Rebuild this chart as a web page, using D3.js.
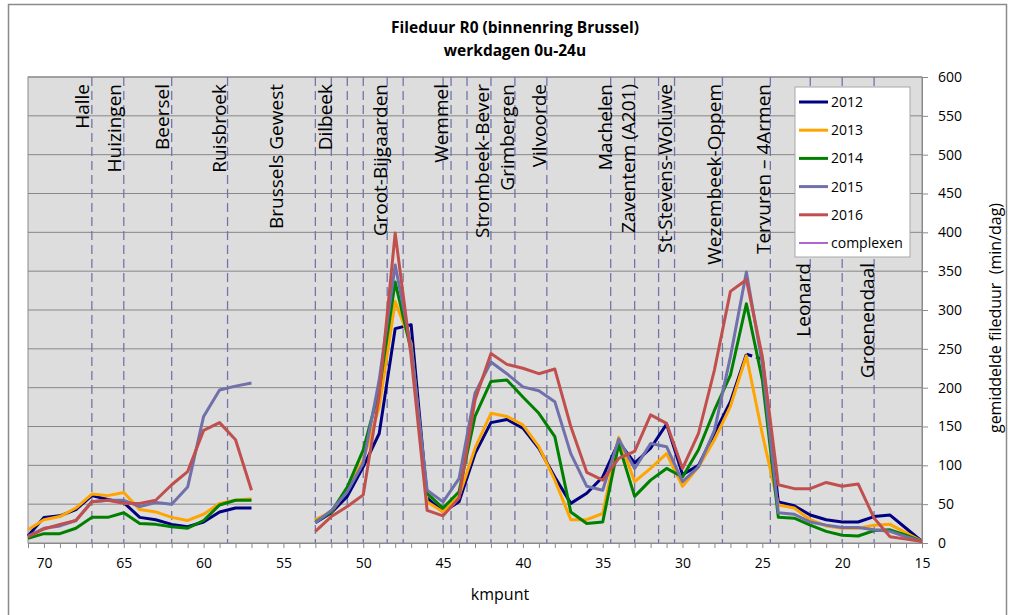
<!DOCTYPE html>
<html>
<head>
<meta charset="utf-8">
<script src="https://cdn.jsdelivr.net/npm/d3@7"></script>
<style>
  body { margin: 0; background: #fff; }
  text { font-family: "Open Sans", sans-serif; fill: #000; }
</style>
</head>
<body>
<div id="chart"></div>
<script>
let w = 1011;
let h = 615;

// kmpunt, from 71 down to 15 (56-54 have no data)
const km = d3.range(71, 14, -1);

const v2012 = [9, 33, 35, 43, 61, 56, 52, 33, 30, 24, 21, 27, 40, 45, 45,
  null, null, null,
  26, 39, 60, 98, 141, 276, 281, 58, 40, 53, 115, 155, 159, 148, 122, 85, 51, 64,
  85, 130, 103, 122, 153, 88, 100, 141, 182, 243, 237, 53, 48, 36, 30, 27, 27, 34, 36, 19, 2];
const v2013 = [17, 30, 34, 45, 63, 61, 65, 43, 40, 33, 29, 37, 51, 55, 57,
  null, null, null,
  30, 40, 68, 107, 175, 311, 257, 53, 40, 60, 122, 167, 163, 152, 124, 81, 30, 30,
  38, 136, 79, 96, 115, 73, 98, 133, 176, 241, 140, 49, 45, 30, 22, 19, 19, 23, 24, 13, 2];
const v2014 = [6, 12, 12, 19, 33, 33, 39, 25, 24, 21, 19, 29, 49, 55, 55,
  null, null, null,
  27, 40, 72, 120, 197, 336, 248, 64, 45, 66, 163, 208, 210, 188, 167, 137, 40, 25,
  27, 127, 60, 81, 96, 85, 120, 171, 216, 308, 210, 33, 32, 23, 15, 10, 9, 16, 17, 10, 2];
const v2015 = [9, 19, 22, 29, 53, 55, 55, 47, 52, 50, 72, 163, 197, 202, 206,
  null, null, null,
  26, 42, 66, 103, 210, 358, 252, 68, 53, 83, 193, 233, 218, 201, 196, 182, 115, 73,
  68, 134, 96, 128, 124, 79, 98, 145, 240, 349, 230, 39, 37, 27, 23, 20, 20, 17, 15, 8, 2];
const v2016 = [8, 18, 24, 29, 53, 55, 51, 51, 55, 75, 92, 145, 155, 133, 68,
  null, null, null,
  15, 34, 47, 62, 190, 399, 240, 42, 35, 58, 184, 244, 230, 225, 218, 224, 150, 91,
  81, 109, 118, 165, 154, 96, 141, 223, 324, 339, 240, 75, 70, 70, 78, 73, 76, 32, 8, 5, 2];

// segments drawn dashed (start km of the segment)
const dashed2012 = [26];

const years = ["2012", "2013", "2014", "2015", "2016"];
const colors = ["#000080", "#ffa500", "#008000", "#7070aa", "#c0504d"];
const seriesVals = [v2012, v2013, v2014, v2015, v2016];
const seriesDashed = [dashed2012, [], [], [], []];

// location labels and their km (centre of the text)
const places = ["Halle", "Huizingen", "Beersel", "Ruisbroek", "Brussels Gewest", "Dilbeek",
  "Groot-Bijgaarden", "Wemmel", "Strombeek-Bever", "Grimbergen", "Vilvoorde", "Machelen",
  "Zaventem (A201)", "St-Stevens-Woluwe", "Wezembeek-Oppem", "Tervuren \u2013 4Armen",
  "Leonard", "Groenendaal"];
const placeKm = [67.62, 65.61, 62.6, 59.04, 55.46, 52.4, 48.95, 45.13, 42.56, 40.99, 38.98,
  34.85, 33.41, 31.09, 28.02, 24.95, 22.44, 18.43];

// dashed vertical lines (km)
const markKm = [67, 65, 62, 58.5, 53, 52, 51, 50, 48.5, 47.5, 45, 44.5, 43.5, 42, 40.5, 38.5,
  34.5, 33, 31.5, 30.5, 27.5, 24.5, 22, 20, 18];

const yTicks = d3.range(0, 601, 50);

let svg = d3.select("#chart")
  .append("svg")
  .attr("width", w)
  .attr("height", h);

// outer border
svg.append("rect")
  .attr("x", 8.5).attr("y", 4.5)
  .attr("width", 998).attr("height", 640)
  .attr("fill", "#fff")
  .attr("stroke", "#8a8a8a")
  .attr("stroke-width", 1.5);

let xScale = d3.scaleLinear().domain([71, 15]).range([28, 922]);
let yScale = d3.scaleLinear().domain([0, 600]).range([543, 77]);

// plot area
svg.append("rect")
  .attr("x", xScale(71)).attr("y", yScale(600))
  .attr("width", xScale(15) - xScale(71))
  .attr("height", yScale(0) - yScale(600))
  .attr("fill", "#dddddd")
  .attr("stroke", "#8a8a8a");

// gridlines
svg.append("g")
  .selectAll("line")
  .data(yTicks.slice(1))
  .enter()
  .append("line")
  .attr("x1", xScale(71)).attr("x2", xScale(15))
  .attr("y1", d => yScale(d)).attr("y2", d => yScale(d))
  .attr("stroke", "#868686")
  .attr("stroke-width", 1);

// dashed location lines
svg.append("g")
  .selectAll("line")
  .data(markKm)
  .enter()
  .append("line")
  .attr("x1", d => xScale(d)).attr("x2", d => xScale(d))
  .attr("y1", yScale(600)).attr("y2", yScale(0))
  .attr("stroke", "#7474a8")
  .attr("stroke-width", 1.3)
  .attr("stroke-dasharray", "9,5");

// location labels
svg.append("g")
  .selectAll("text")
  .data(places)
  .enter()
  .append("text")
  .attr("transform", (d, i) => "translate(" + xScale(placeKm[i]) + "," + (placeKm[i] < 23.5 ? 263 : 84) + ") rotate(-90)")
  .attr("text-anchor", "end")
  .attr("dy", "0.35em")
  .style("font-size", "19px")
  .text(d => d);

// series
function segments(vals, dashedStarts) {
  let segs = [];
  let cur = null;
  for (let i = 0; i < km.length - 1; i++) {
    let a = vals[i], b = vals[i + 1];
    if (a == null || b == null) { cur = null; continue; }
    let dashed = dashedStarts.includes(km[i]);
    if (!cur || cur.dashed !== dashed) {
      cur = { dashed: dashed, pts: [[km[i], a]] };
      segs.push(cur);
    }
    cur.pts.push([km[i + 1], b]);
  }
  return segs;
}

let line = d3.line()
  .x(d => xScale(d[0]))
  .y(d => yScale(d[1]));

seriesVals.forEach((vals, s) => {
  svg.append("g")
    .selectAll("path")
    .data(segments(vals, seriesDashed[s]))
    .enter()
    .append("path")
    .attr("d", d => line(d.pts))
    .attr("fill", "none")
    .attr("stroke", colors[s])
    .attr("stroke-width", 3)
    .attr("stroke-linejoin", "round")
    .attr("stroke-dasharray", d => d.dashed ? "6,4" : null);
});

// x axis
let xAxis = d3.axisBottom(xScale)
  .tickValues(km)
  .tickFormat(d => d % 5 === 0 ? d : "")
  .tickSize(5)
  .tickSizeOuter(0)
  .tickPadding(10);

let gx = svg.append("g")
  .attr("transform", "translate(0," + yScale(0) + ")")
  .call(xAxis);
gx.selectAll("text").style("font-size", "14px").style("font-family", "Open Sans");
gx.selectAll("line, path").attr("stroke", "#8a8a8a");

// y axis on the right
let yAxis = d3.axisRight(yScale)
  .tickValues(yTicks)
  .tickSize(6)
  .tickSizeOuter(0)
  .tickPadding(10);

let gy = svg.append("g")
  .attr("transform", "translate(" + xScale(15) + ",0)")
  .call(yAxis);
gy.selectAll("text").style("font-size", "14px").style("font-family", "Open Sans");
gy.selectAll("line, path").attr("stroke", "#8a8a8a");

// titles
svg.append("text")
  .attr("x", 515).attr("y", 33)
  .attr("text-anchor", "middle")
  .style("font-size", "15.5px")
  .style("font-weight", "bold")
  .text("Fileduur R0 (binnenring Brussel)");

svg.append("text")
  .attr("x", 515).attr("y", 56)
  .attr("text-anchor", "middle")
  .style("font-size", "15.5px")
  .style("font-weight", "bold")
  .text("werkdagen 0u-24u");

svg.append("text")
  .attr("x", 500).attr("y", 600)
  .attr("text-anchor", "middle")
  .style("font-size", "16px")
  .text("kmpunt");

svg.append("text")
  .attr("transform", "translate(995,318) rotate(-90)")
  .attr("text-anchor", "middle")
  .attr("dy", "0.35em")
  .style("font-size", "16px")
  .text("gemiddelde fileduur\u00a0 (min/dag)");

// legend
const legendLabels = years.concat(["complexen"]);
const legendColors = colors.concat(["#9b30c0"]);

let legend = svg.append("g");
legend.append("rect")
  .attr("x", 795).attr("y", 87)
  .attr("width", 115).attr("height", 170)
  .attr("fill", "#fff")
  .attr("stroke", "#a8a8a8");

let items = legend.selectAll("g.item")
  .data(legendLabels)
  .enter()
  .append("g")
  .attr("class", "item")
  .attr("transform", (d, i) => "translate(0," + (102 + i * 28.2) + ")");

items.append("line")
  .attr("x1", 799).attr("x2", 828)
  .attr("y1", 0).attr("y2", 0)
  .attr("stroke", (d, i) => legendColors[i])
  .attr("stroke-width", (d, i) => i < 5 ? 3 : 1.5);

items.append("text")
  .attr("x", 831)
  .attr("dy", "0.35em")
  .style("font-size", "14px")
  .text(d => d);
</script>
</body>
</html>
